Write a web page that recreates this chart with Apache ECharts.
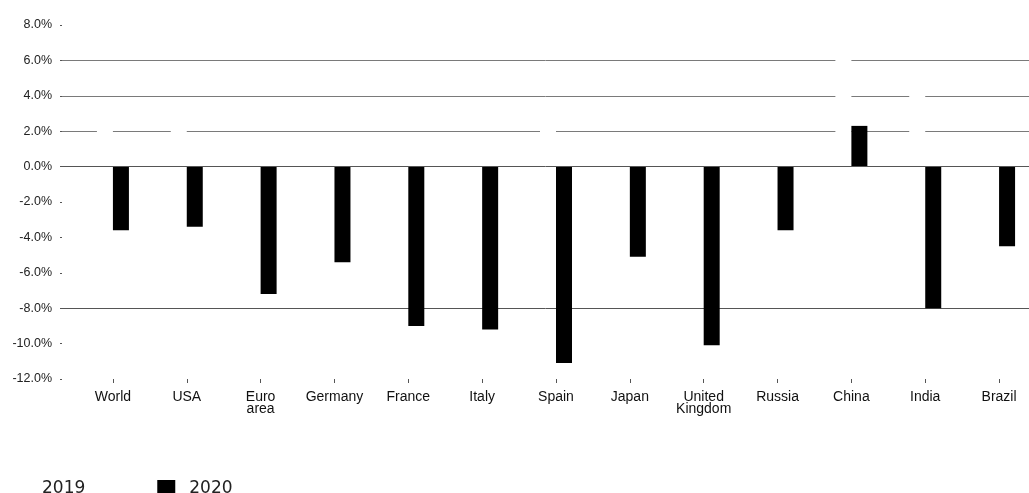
<!DOCTYPE html>
<html>
<head>
<meta charset="utf-8">
<script src="https://cdn.jsdelivr.net/npm/echarts@6/dist/echarts.min.js"></script>
<style>
html,body{margin:0;padding:0;background:#fff;}
#chart{width:1029px;height:493px;}
</style>
</head>
<body>
<div id="chart"></div>
<script>
const categories = ['World','USA','Euro area','Germany','France','Italy','Spain','Japan','United Kingdom','Russia','China','India','Brazil'];
const values2019 = [2.8, 2.2, 1.3, 0.6, 1.5, 0.3, 2.1, 0.7, 1.4, 1.3, 6.1, 4.2, 1.1];
const values2020 = [-3.6, -3.4, -7.2, -5.4, -9.0, -9.2, -11.1, -5.1, -10.1, -3.6, 2.3, -8.0, -4.5];
const seriesNames = ['2019', '2020'];
const yMin = -12, yMax = 8, yStep = 2;
// grid line colours, one per tick from min to max (-12 ... 8)
const gridLineColors = ['transparent','transparent','#555','transparent','transparent','transparent','transparent','#7a7a7a','#7a7a7a','#7a7a7a','transparent'];

const chart = echarts.init(document.getElementById('chart'));
const font = 'Liberation Sans';
chart.setOption({
  animation: false,
  backgroundColor: '#fff',
  grid: [
    {left: 76, width: 960, top: 25, bottom: 114, outerBoundsMode: 'none', containLabel: false},
    {left: 62, right: 0, top: 25, bottom: 114, outerBoundsMode: 'none'}
  ],
  legend: {
    data: seriesNames,
    left: 5, top: 475,
    itemWidth: 18, itemHeight: 17, itemGap: 72,
    icon: 'rect',
    selectedMode: false,
    textStyle: {fontFamily: 'DejaVu Sans', fontSize: 17, color: '#222', padding: [0,0,0,9]}
  },
  xAxis: [
    {
      type: 'category', gridIndex: 0, data: categories, position: 'bottom',
      axisLine: {show: false, onZero: false},
      axisTick: {show: true, alignWithLabel: true, length: 4, interval: 0, lineStyle: {color: '#555'}},
      axisLabel: {
        interval: 0, margin: 12, fontSize: 14, lineHeight: 12, color: '#111', fontFamily: font,
        formatter: v => v.replace(' ', '\n')
      },
      splitLine: {show: false}
    },
    {
      type: 'category', gridIndex: 1, data: [], z: 10,
      axisLine: {show: true, onZero: true, lineStyle: {color: '#555', width: 1}},
      axisTick: {show: false}, axisLabel: {show: false}, splitLine: {show: false}
    }
  ],
  yAxis: [
    {
      type: 'value', gridIndex: 0, min: yMin, max: yMax, interval: yStep, show: false,
      splitLine: {show: false}
    },
    {
      type: 'value', gridIndex: 1, min: yMin, max: yMax, interval: yStep,
      axisLine: {show: false},
      axisTick: {show: true, length: 2, lineStyle: {color: '#555'}},
      axisLabel: {margin: 10, fontSize: 12.5, color: '#222', fontFamily: font,
        formatter: v => v.toFixed(1) + '%'},
      splitLine: {show: true, lineStyle: {color: gridLineColors, width: 1}}
    }
  ],
  series: [
    {
      name: seriesNames[0], type: 'bar', xAxisIndex: 0, yAxisIndex: 0,
      data: values2019, barWidth: 16, barGap: '0%',
      itemStyle: {color: '#ffffff'}, z: 2
    },
    {
      name: seriesNames[1], type: 'bar', xAxisIndex: 0, yAxisIndex: 0,
      data: values2020, barWidth: 16, barGap: '0%',
      itemStyle: {color: '#000000'}, z: 2
    }
  ]
});
</script>
</body>
</html>
